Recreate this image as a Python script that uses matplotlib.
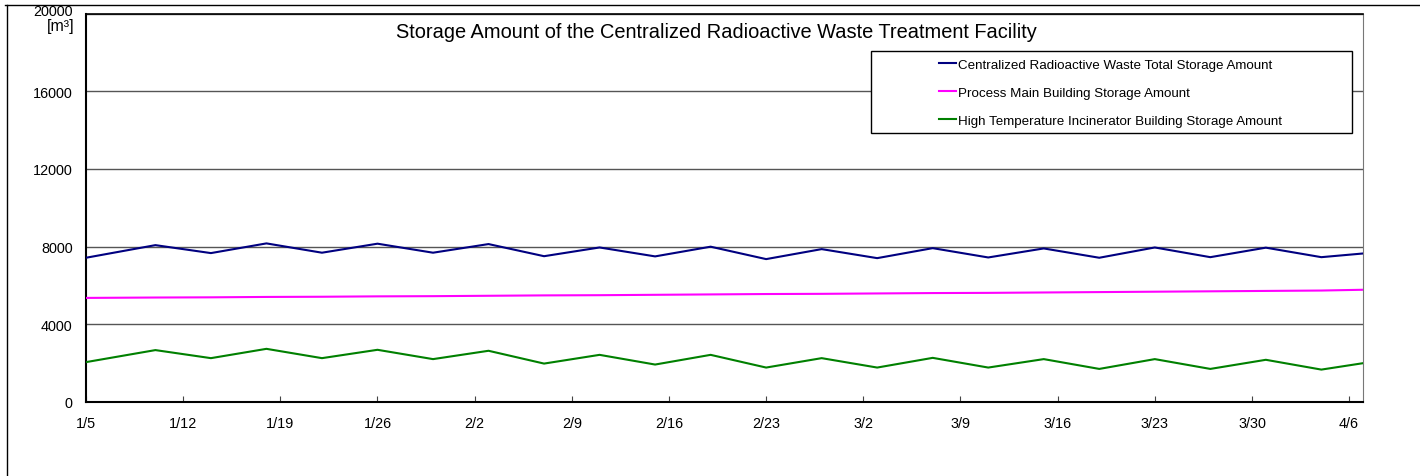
import matplotlib
matplotlib.use("Agg")
import matplotlib.pyplot as plt
import matplotlib.transforms as mtransforms
from matplotlib.lines import Line2D
from matplotlib.patches import Rectangle
import pandas as pd

plt.rcParams['font.family'] = ['Liberation Sans', 'DejaVu Sans']

# data (every 4 days, last point 4/7)
dates = ["2015-01-05", "2015-01-10", "2015-01-14", "2015-01-18", "2015-01-22", "2015-01-26",
         "2015-01-30", "2015-02-03", "2015-02-07", "2015-02-11", "2015-02-15", "2015-02-19",
         "2015-02-23", "2015-02-27", "2015-03-03", "2015-03-07", "2015-03-11", "2015-03-15",
         "2015-03-19", "2015-03-23", "2015-03-27", "2015-03-31", "2015-04-04", "2015-04-07"]
total = [7420, 8070, 7660, 8160, 7680, 8145, 7680, 8125, 7500, 7950, 7490, 7990,
         7350, 7865, 7400, 7915, 7435, 7900, 7420, 7950, 7450, 7940, 7450, 7640]
process_main = [5350, 5370, 5380, 5400, 5410, 5430, 5440, 5460, 5480, 5490, 5510, 5530,
                5550, 5560, 5580, 5600, 5610, 5630, 5650, 5670, 5690, 5710, 5730, 5770]
incinerator = [2040, 2660, 2245, 2725, 2245, 2675, 2195, 2625, 1965, 2415, 1915, 2415,
               1760, 2245, 1760, 2260, 1760, 2195, 1690, 2195, 1690, 2160, 1655, 1985]

labels = ["Centralized Radioactive Waste Total Storage Amount",
          "Process Main Building Storage Amount",
          "High Temperature Incinerator Building Storage Amount"]
colors = ["#000080", "#ff00ff", "#008000"]

x = pd.to_datetime(dates)
W, H = 1420, 477

fig = plt.figure(figsize=(W / 100, H / 100), dpi=100)
ax = fig.add_axes([86 / W, 1 - 402.7 / H, (1363 - 86) / W, (402.7 - 14.7) / H])

for ys, c, lab in zip([total, process_main, incinerator], colors, labels):
    ax.plot(x, ys, color=c, lw=1.5, label=lab, zorder=3)

ax.set_ylim(0, 20000)
ax.set_yticks(range(0, 20001, 4000))
ax.set_xlim(pd.Timestamp("2015-01-05"), pd.Timestamp("2015-04-07"))
ticks = pd.date_range("2015-01-05", "2015-04-06", freq="7D")
ax.set_xticks(ticks)
ax.set_xticklabels([f"{d.month}/{d.day}" for d in ticks])
ax.tick_params(axis='y', length=0, pad=9.6, labelsize=10.4)
ax.tick_params(axis='x', direction='in', length=4, pad=10, labelsize=10.4, color='#444444')
ax.grid(axis='y', color='#555555', lw=1)
ax.set_axisbelow(True)

# top label (20000) sits a little higher to leave room for the unit
top_lab = ax.get_yticklabels()[-1]
top_lab.set_transform(top_lab.get_transform() +
                      mtransforms.ScaledTranslation(0, 3 / 72, fig.dpi_scale_trans))

ax.spines['left'].set_linewidth(1.5)
ax.spines['bottom'].set_linewidth(1.5)
ax.spines['right'].set_color('#777777')
ax.spines['top'].set_linewidth(1.2)

fig.text(75 / W, 1 - 19 / H, "[m³]", ha='right', va='top', fontsize=11.5)
fig.text(716 / W, 1 - 33 / H, "Storage Amount of the Centralized Radioactive Waste Treatment Facility",
         ha='center', va='center', fontsize=14.4)

# legend frame and entries
fig.patches.append(Rectangle((871 / W, 1 - 134 / H), (1352 - 871) / W, (134 - 51.7) / H,
                             transform=fig.transFigure, facecolor='white', edgecolor='black',
                             lw=1, zorder=4))
leg = fig.legend(loc='upper left', bbox_to_anchor=(939 / W, 1 - 59.5 / H), frameon=False,
                 fontsize=9.6, handlelength=1.28, handletextpad=0.15, labelspacing=1.18,
                 borderaxespad=0, borderpad=0)
leg.set_zorder(5)

# outer border of the chart area
fig.add_artist(Line2D([5 / W, 1], [1 - 6 / H, 1 - 6 / H], color='black', lw=1))
fig.add_artist(Line2D([7 / W, 7 / W], [0, 1 - 6 / H], color='black', lw=1))

fig.savefig("out.png", dpi=100)
